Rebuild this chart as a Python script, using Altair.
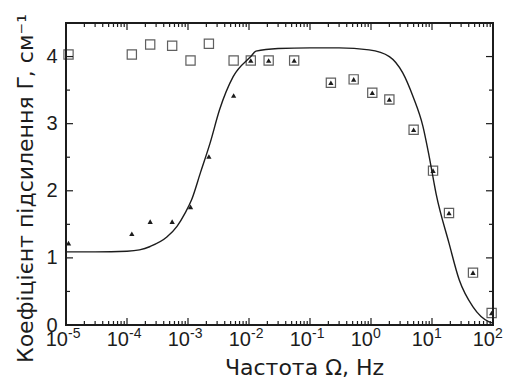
import altair as alt
import pandas as pd

# ---- data ----
sq_x = [1.1e-5, 1.2e-4, 2.4e-4, 5.5e-4, 1.1e-3, 2.2e-3, 5.6e-3, 1.07e-2, 2.1e-2, 5.5e-2,
        0.22, 0.52, 1.05, 2.0, 5.0, 10.4, 19, 47, 95]
sq_y = [4.03, 4.03, 4.18, 4.16, 3.94, 4.19, 3.94, 3.94, 3.94, 3.94,
        3.61, 3.66, 3.46, 3.36, 2.91, 2.30, 1.67, 0.78, 0.18]

tri_x = [1.1e-5, 1.2e-4, 2.4e-4, 5.5e-4, 1.1e-3, 2.2e-3, 5.6e-3, 1.07e-2, 2.1e-2, 5.5e-2,
         0.22, 0.52, 1.05, 2.0, 5.0, 10.4, 19, 47, 95]
tri_y = [1.22, 1.36, 1.54, 1.54, 1.76, 2.51, 3.42, 3.94, 3.94, 3.94,
         3.61, 3.66, 3.46, 3.36, 2.91, 2.30, 1.67, 0.78, 0.18]

curve_x = [1e-5, 3e-5, 1e-4, 1.6e-4, 2.4e-4, 4.5e-4, 6.6e-4, 9e-4, 1.15e-3, 1.6e-3,
           2.3e-3, 3.3e-3, 5.5e-3, 1.07e-2, 1.3e-2, 3e-2, 1e-1, 3e-1, 0.93, 2.0,
           3.3, 4.9, 7.1, 9.0, 11.7, 19, 28, 47, 85, 100]
curve_y = [1.09, 1.09, 1.10, 1.12, 1.17, 1.31, 1.47, 1.67, 1.87, 2.27,
           2.71, 3.21, 3.70, 4.00, 4.08, 4.12, 4.13, 4.13, 4.10, 4.00,
           3.76, 3.40, 2.96, 2.51, 1.95, 1.22, 0.67, 0.27, 0.05, 0.03]

x_major = [1e-5, 1e-4, 1e-3, 1e-2, 1e-1, 1e0, 1e1, 1e2]
x_bases = ["10"] * 8
x_exponents = ["-5", "-4", "-3", "-2", "-1", "0", "1", "2"]
x_minor = [m * 10.0 ** k for k in range(-5, 2) for m in range(2, 10)]
y_major = [0, 1, 2, 3, 4]
y_minor = [0.5, 1.5, 2.5, 3.5]

x_title = "Частота Ω, Hz"
y_title = "Коефіцієнт підсилення Γ, см⁻¹"

W, H = 427, 302
INK = "#1c1c1c"
FONT = "Liberation Sans"
TFONT = "DejaVu Sans"

xs = alt.Scale(type="log", domain=[1e-5, 1e2])
ys = alt.Scale(domain=[0, 4.5], nice=False, zero=False)

xaxis = alt.Axis(
    values=x_major, labels=False, ticks=False, domain=False, grid=False,
    title=x_title, titleFontSize=22, titleFont=TFONT, titleFontWeight="normal",
    titleColor=INK, titleX=238, titleY=49, titleBaseline="alphabetic")
yaxis = alt.Axis(
    values=y_major, ticks=False, domain=False, grid=False,
    labelFontSize=20, labelFont=FONT, labelColor=INK, labelPadding=9,
    title=y_title, titleFontSize=22, titleFont=TFONT, titleFontWeight="normal",
    titleColor=INK, titleX=-34, titleY=165, titleBaseline="alphabetic")

curve = pd.DataFrame({"x": curve_x, "y": curve_y})
squares = pd.DataFrame({"x": sq_x, "y": sq_y})
tris = pd.DataFrame({"x": tri_x, "y": tri_y})
labels = pd.DataFrame({"x": x_major, "b": x_bases, "e": x_exponents})

X = alt.X("x:Q", scale=xs, axis=xaxis)
Y = alt.Y("y:Q", scale=ys, axis=yaxis)

line = alt.Chart(curve).mark_line(interpolate="monotone", color=INK, strokeWidth=1.4).encode(x=X, y=Y)
sq = alt.Chart(squares).mark_point(shape="square", filled=False, size=85,
                                   strokeWidth=1.2, color=INK).encode(x=X, y=Y)
tr = alt.Chart(tris).mark_point(shape="triangle-up", filled=True, size=28,
                                color=INK, opacity=1).encode(x=X, y=Y)
base_txt = alt.Chart(labels).mark_text(align="right", baseline="top", dx=2, fontSize=20,
                                       font=FONT, color=INK).encode(
    x=X, y=alt.value(H + 5), text="b:N")
exp_txt = alt.Chart(labels).mark_text(align="left", baseline="top", dx=2, fontSize=14,
                                      font=FONT, color=INK).encode(
    x=X, y=alt.value(H + 2), text="e:N")


def xticks(vals, y0, y1):
    return alt.Chart(pd.DataFrame({"x": vals})).mark_rule(color=INK, strokeWidth=1.2).encode(
        x=X, y=alt.value(y0), y2=alt.value(y1))


def yticks(vals, x0, x1):
    return alt.Chart(pd.DataFrame({"y": vals})).mark_rule(color=INK, strokeWidth=1.2).encode(
        y=Y, x=alt.value(x0), x2=alt.value(x1))


ticks = [
    xticks(x_major, H, H - 7), xticks(x_minor, H, H - 4),
    xticks(x_major, 0, 7), xticks(x_minor, 0, 4),
    yticks(y_major, 0, 7), yticks(y_minor, 0, 4),
    yticks(y_major, W, W - 7), yticks(y_minor, W, W - 4),
]

chart = alt.layer(line, *ticks, sq, tr, base_txt, exp_txt).properties(
    width=W, height=H, autosize="none",
    padding={"left": 58, "top": 15, "right": 10, "bottom": 53},
    background="white",
).configure_view(stroke=INK, strokeWidth=2)

chart.save("out.html", embed_options={"renderer": "svg", "actions": False})
